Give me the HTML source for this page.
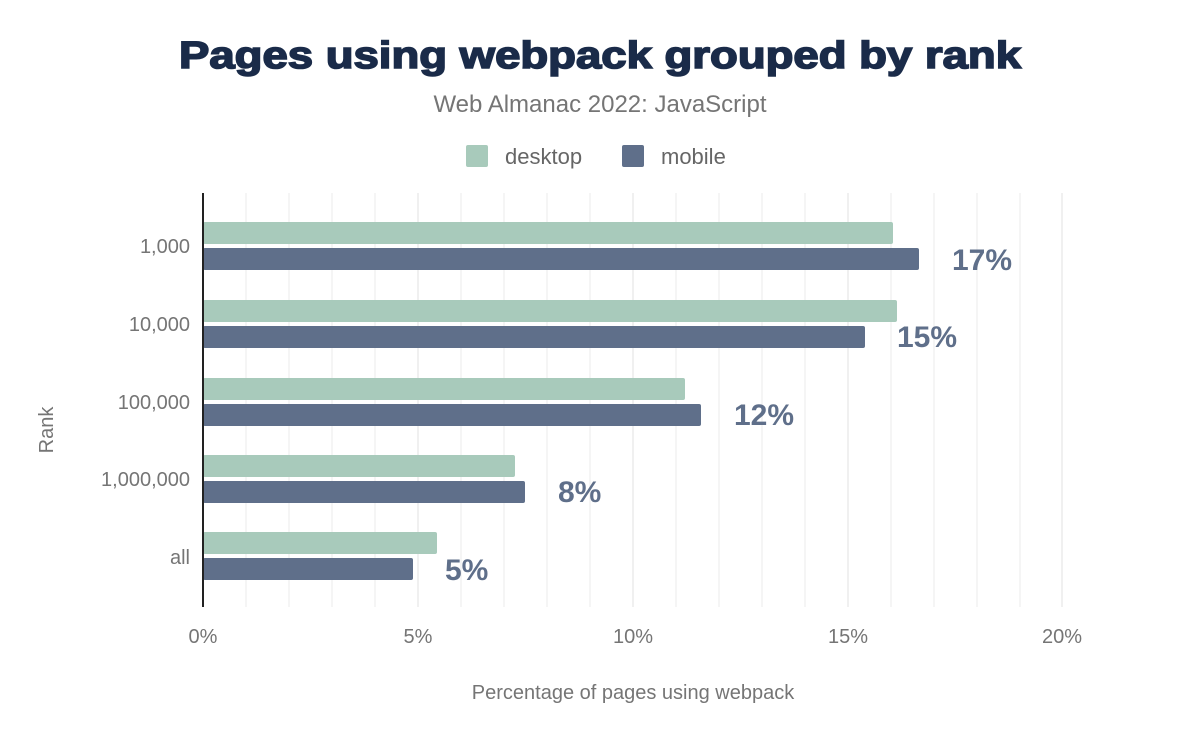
<!DOCTYPE html>
<html><head><meta charset="utf-8"><style>
body{margin:0;background:#fff;font-family:"Liberation Sans",sans-serif}
</style></head><body>
<svg width="1200" height="742" xmlns="http://www.w3.org/2000/svg" font-family="Liberation Sans, sans-serif">
<rect width="1200" height="742" fill="#fff"/>
<text x="600" y="68" text-anchor="middle" font-size="38" font-weight="bold" fill="#1a2b49" stroke="#1a2b49" stroke-width="1.6" textLength="842" lengthAdjust="spacingAndGlyphs">Pages using webpack grouped by rank</text>
<text x="600" y="112" text-anchor="middle" font-size="24" fill="#757575">Web Almanac 2022: JavaScript</text>
<rect x="466" y="145" width="22" height="22" rx="2" fill="#a8cabb"/>
<text x="505" y="164" font-size="22" fill="#666">desktop</text>
<rect x="622" y="145" width="22" height="22" rx="2" fill="#5f6f8a"/>
<text x="661" y="164" font-size="22" fill="#666">mobile</text>
<g stroke="#f2f2f2" stroke-width="1.5">
<line x1="246" y1="193" x2="246" y2="607"/><line x1="289" y1="193" x2="289" y2="607"/><line x1="332" y1="193" x2="332" y2="607"/><line x1="375" y1="193" x2="375" y2="607"/>
<line x1="418" y1="193" x2="418" y2="607" stroke="#ebebeb"/>
<line x1="461" y1="193" x2="461" y2="607"/><line x1="504" y1="193" x2="504" y2="607"/><line x1="547" y1="193" x2="547" y2="607"/><line x1="590" y1="193" x2="590" y2="607"/>
<line x1="633" y1="193" x2="633" y2="607" stroke="#ebebeb"/>
<line x1="676" y1="193" x2="676" y2="607"/><line x1="719" y1="193" x2="719" y2="607"/><line x1="762" y1="193" x2="762" y2="607"/><line x1="805" y1="193" x2="805" y2="607"/>
<line x1="848" y1="193" x2="848" y2="607" stroke="#ebebeb"/>
<line x1="891" y1="193" x2="891" y2="607"/><line x1="934" y1="193" x2="934" y2="607"/><line x1="977" y1="193" x2="977" y2="607"/><line x1="1020" y1="193" x2="1020" y2="607"/>
<line x1="1062" y1="193" x2="1062" y2="607" stroke="#ebebeb"/>
</g>
<g>
<rect x="203" y="222" width="690" height="22" rx="2" fill="#a8cabb"/>
<rect x="203" y="248" width="716" height="22" rx="2" fill="#5f6f8a"/>
<rect x="203" y="300" width="694" height="22" rx="2" fill="#a8cabb"/>
<rect x="203" y="326" width="662" height="22" rx="2" fill="#5f6f8a"/>
<rect x="203" y="378" width="482" height="22" rx="2" fill="#a8cabb"/>
<rect x="203" y="404" width="498" height="22" rx="2" fill="#5f6f8a"/>
<rect x="203" y="455" width="312" height="22" rx="2" fill="#a8cabb"/>
<rect x="203" y="481" width="322" height="22" rx="2" fill="#5f6f8a"/>
<rect x="203" y="532" width="234" height="22" rx="2" fill="#a8cabb"/>
<rect x="203" y="558" width="210" height="22" rx="2" fill="#5f6f8a"/>
</g>
<line x1="203" y1="193" x2="203" y2="607" stroke="#222" stroke-width="2"/>
<g font-size="30" font-weight="bold" fill="#5f6f8a">
<text x="952" y="270">17%</text>
<text x="897" y="347">15%</text>
<text x="734" y="425">12%</text>
<text x="558" y="502">8%</text>
<text x="445" y="580">5%</text>
</g>
<g font-size="20" fill="#757575" text-anchor="end">
<text x="190" y="253">1,000</text>
<text x="190" y="331">10,000</text>
<text x="190" y="409">100,000</text>
<text x="190" y="486">1,000,000</text>
<text x="190" y="564">all</text>
</g>
<text transform="translate(53,430) rotate(-90)" text-anchor="middle" font-size="20" fill="#757575">Rank</text>
<g font-size="20" fill="#757575" text-anchor="middle">
<text x="203" y="643">0%</text><text x="418" y="643">5%</text><text x="633" y="643">10%</text><text x="848" y="643">15%</text><text x="1062" y="643">20%</text>
</g>
<text x="633" y="699" text-anchor="middle" font-size="20" fill="#757575">Percentage of pages using webpack</text>
</svg>
</body></html>
